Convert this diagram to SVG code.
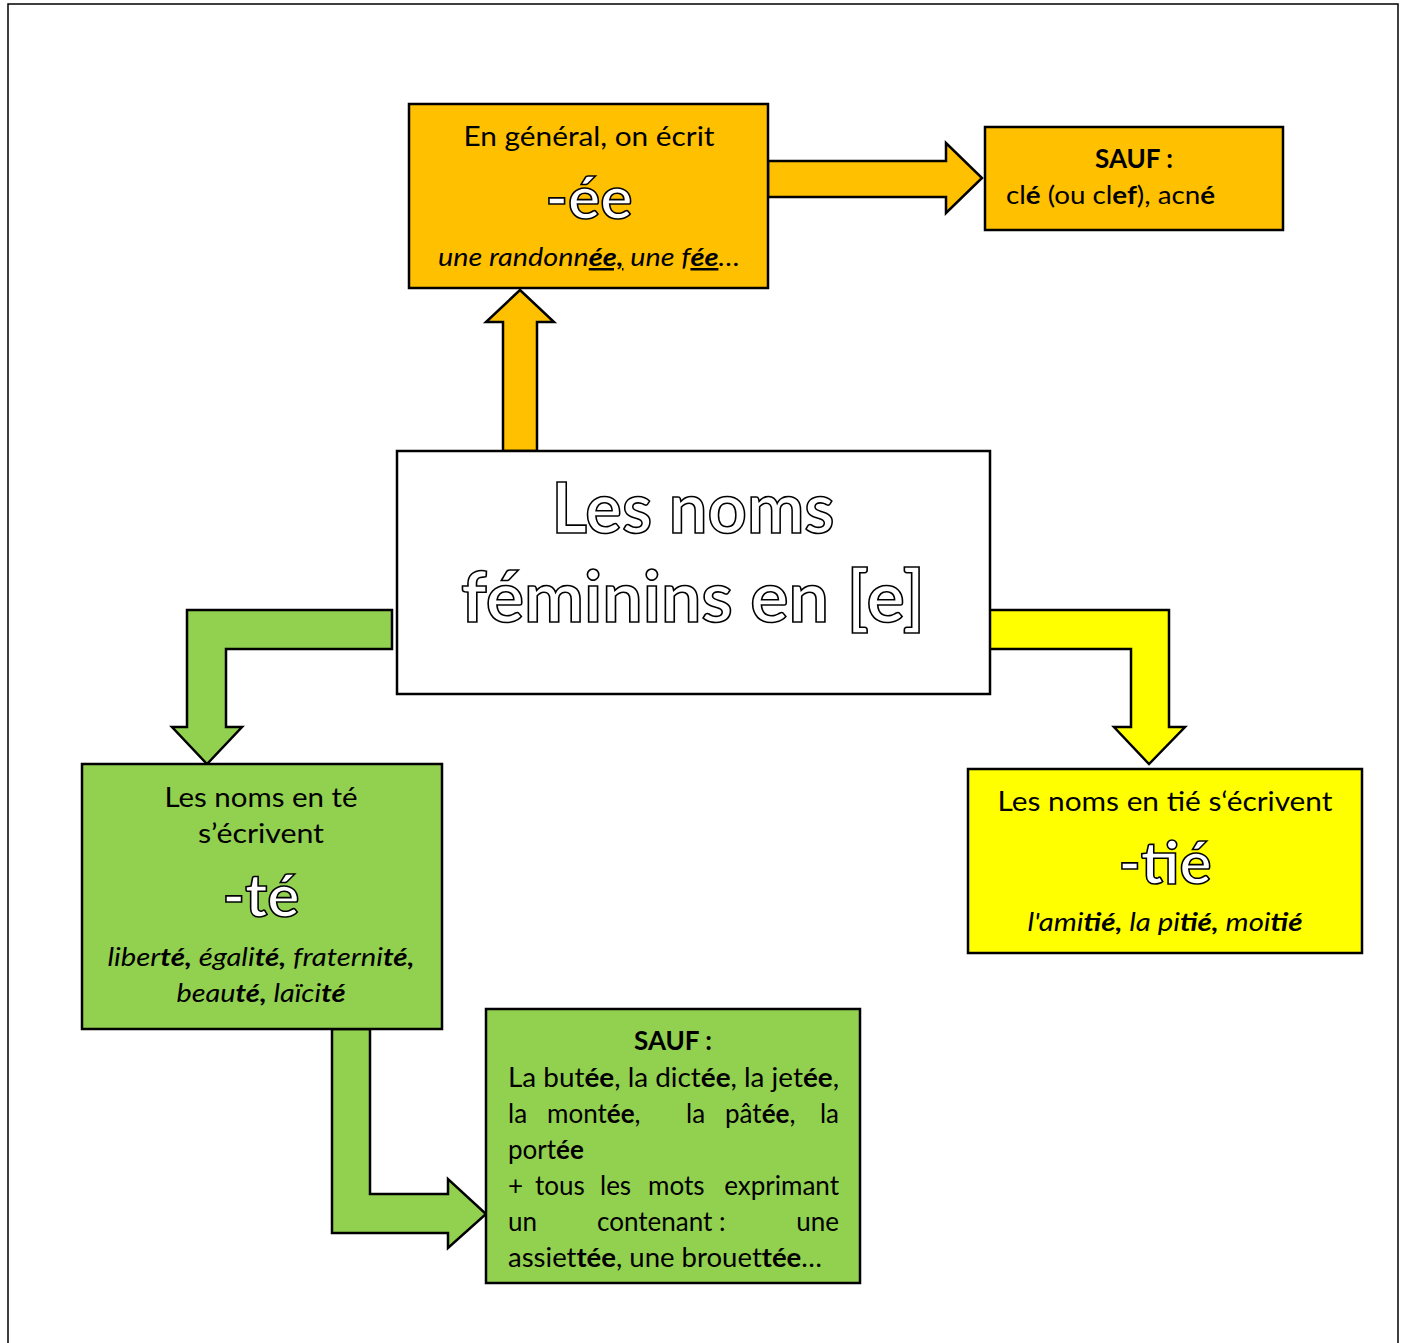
<svg xmlns="http://www.w3.org/2000/svg" width="1407" height="1343" viewBox="0 0 1407 1343">
<style>
  text { font-family: Lato, "Open Sans", "Liberation Sans", sans-serif; fill: #000; }
  .box { stroke: #000; stroke-width: 2.5; }
  .arrow { stroke: #000; stroke-width: 2.5; stroke-linejoin: miter; }
  .orange { fill: #FFC000; }
  .green { fill: #92D050; }
  .yellow { fill: #FFFF00; }
  .outline { fill: #fff; stroke: #000; stroke-width: 1.6; font-weight: bold; }
  .b { font-weight: bold; }
  .u { text-decoration: underline; }
  .it { font-style: italic; }
  .t { font-size: 26px; }
</style>
<rect x="8" y="4" width="1390" height="1360" fill="#fff" stroke="#000" stroke-width="1.5"/>

<g id="connectors">
  <polygon class="arrow orange" points="503,451 503,322 486,322 520,290 554,322 537,322 537,451"/>
  <polygon class="arrow orange" points="768,161 946,161 946,143 982,178 946,213 946,197 768,197"/>
  <polygon class="arrow green" points="392,610 187,610 187,727 172,727 207,764 242,727 226,727 226,649 392,649"/>
  <polygon class="arrow yellow" points="987,610 1169,610 1169,727 1185,727 1149,764 1114,727 1131,727 1131,649 987,649"/>
  <polygon class="arrow green" points="332,1029 332,1233 448,1233 448,1248 486,1214 448,1179 448,1194 370,1194 370,1029"/>
</g>

<g id="node-general">
  <rect class="box orange" x="409" y="104" width="359" height="184"/>
  <text class="t" x="589" y="146" text-anchor="middle" textLength="251" lengthAdjust="spacingAndGlyphs">En général, on écrit</text>
  <text class="outline" x="589" y="219" text-anchor="middle" font-size="60" textLength="87" lengthAdjust="spacingAndGlyphs">-ée</text>
  <text class="it" x="589" y="266" text-anchor="middle" font-size="25" textLength="302" lengthAdjust="spacingAndGlyphs">une randonn<tspan class="b u">ée,</tspan> une f<tspan class="b u">ée</tspan>…</text>
</g>

<g id="node-sauf-ee">
  <rect class="box orange" x="985" y="127" width="298" height="103"/>
  <text class="b t" x="1134" y="168" text-anchor="middle">SAUF :</text>
  <text x="1006" y="204" font-size="25" textLength="209" lengthAdjust="spacingAndGlyphs">cl<tspan class="b">é</tspan> (ou cl<tspan class="b">ef</tspan>), acn<tspan class="b">é</tspan></text>
</g>

<g id="node-center">
  <rect class="box" x="397" y="451" width="593" height="243" fill="#fff"/>
  <text class="outline" x="693" y="533" text-anchor="middle" font-size="70" stroke-width="2" textLength="283" lengthAdjust="spacingAndGlyphs">Les noms</text>
  <text class="outline" x="693" y="622" text-anchor="middle" font-size="70" stroke-width="2" textLength="464" lengthAdjust="spacingAndGlyphs">féminins en [e]</text>
</g>

<g id="node-te">
  <rect class="box green" x="82" y="764" width="360" height="265"/>
  <text class="t" x="261" y="807" text-anchor="middle" textLength="193" lengthAdjust="spacingAndGlyphs">Les noms en té</text>
  <text class="t" x="261" y="843" text-anchor="middle" textLength="126" lengthAdjust="spacingAndGlyphs">s’écrivent</text>
  <text class="outline" x="261" y="917" text-anchor="middle" font-size="60" textLength="77" lengthAdjust="spacingAndGlyphs">-té</text>
  <text class="it" x="261" y="966" text-anchor="middle" font-size="25" textLength="307" lengthAdjust="spacingAndGlyphs">liber<tspan class="b">té,</tspan> égali<tspan class="b">té,</tspan> fraterni<tspan class="b">té,</tspan></text>
  <text class="it" x="261" y="1002" text-anchor="middle" font-size="25" textLength="169" lengthAdjust="spacingAndGlyphs">beau<tspan class="b">té,</tspan> laïci<tspan class="b">té</tspan></text>
</g>

<g id="node-tie">
  <rect class="box yellow" x="968" y="769" width="394" height="184"/>
  <text class="t" x="1165" y="811" text-anchor="middle" textLength="335" lengthAdjust="spacingAndGlyphs">Les noms en tié s‘écrivent</text>
  <text class="outline" x="1165" y="884" text-anchor="middle" font-size="60" textLength="93" lengthAdjust="spacingAndGlyphs">-tié</text>
  <text class="it" x="1165" y="931" text-anchor="middle" font-size="25" textLength="275" lengthAdjust="spacingAndGlyphs">l'ami<tspan class="b">tié,</tspan> la pi<tspan class="b">tié,</tspan> moi<tspan class="b">tié</tspan></text>
</g>

<g id="node-sauf-te">
  <rect class="box green" x="486" y="1009" width="374" height="274"/>
  <text class="b t" x="673" y="1050" text-anchor="middle">SAUF :</text>
  <text class="t" x="508" y="1087" textLength="331" lengthAdjust="spacingAndGlyphs">La but<tspan class="b">ée</tspan>, la dict<tspan class="b">ée</tspan>, la jet<tspan class="b">ée</tspan>,</text>
  <text class="t" x="508" y="1123">la</text>
  <text class="t" x="547" y="1123">mont<tspan class="b">ée</tspan>,</text>
  <text class="t" x="686" y="1123">la</text>
  <text class="t" x="725" y="1123">pât<tspan class="b">ée</tspan>,</text>
  <text class="t" x="839" y="1123" text-anchor="end">la</text>
  <text class="t" x="508" y="1159">port<tspan class="b">ée</tspan></text>
  <text class="t" x="508" y="1195">+</text>
  <text class="t" x="535" y="1195">tous</text>
  <text class="t" x="600" y="1195">les</text>
  <text class="t" x="648" y="1195">mots</text>
  <text class="t" x="839" y="1195" text-anchor="end">exprimant</text>
  <text class="t" x="508" y="1231">un</text>
  <text class="t" x="597" y="1231">contenant :</text>
  <text class="t" x="839" y="1231" text-anchor="end">une</text>
  <text class="t" x="508" y="1267" textLength="314" lengthAdjust="spacingAndGlyphs">assiet<tspan class="b">tée</tspan>, une brouet<tspan class="b">tée</tspan>…</text>
</g>
</svg>
